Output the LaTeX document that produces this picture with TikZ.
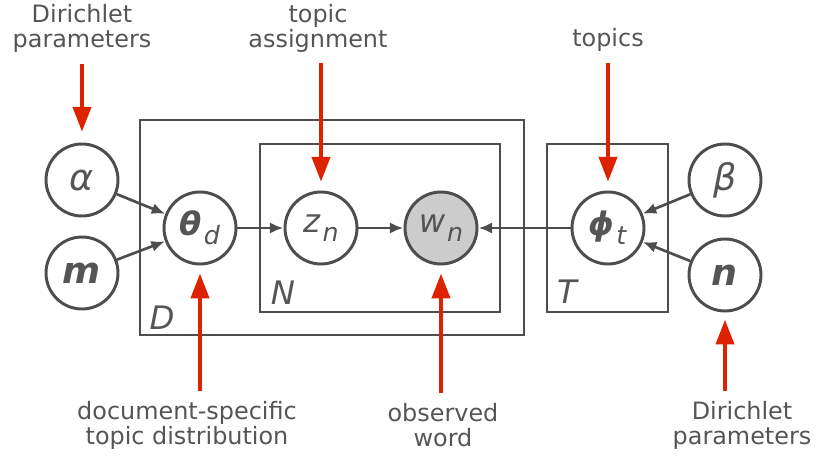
\documentclass[tikz,border=0pt]{standalone}
\usepackage{fontspec}
\setmainfont{DejaVu Sans}
\usepackage{tikz}
\usetikzlibrary{arrows.meta}
\definecolor{linegray}{HTML}{4D4D4D}
\definecolor{textgray}{HTML}{555555}
\definecolor{obsgray}{HTML}{CCCCCC}
\definecolor{pointred}{HTML}{DD2200}
\newcommand{\lowsub}[1]{\kern0.06em\raisebox{-0.5ex}{\fontsize{18}{18}\selectfont\textit{#1}}}
\newcommand{\bigsym}[1]{{\fontsize{26}{26}\selectfont #1}}

\begin{document}
\begin{tikzpicture}[
    var/.style={circle, draw=linegray, line width=2.1pt, minimum size=1.8cm,
      inner sep=0pt, text=textgray, font=\fontsize{23}{23}\selectfont},
    obs/.style={var, fill=obsgray},
    plate/.style={draw=linegray, line width=2pt},
    platelabel/.style={text=textgray, font=\fontsize{23}{23}\selectfont\itshape},
    caption/.style={text=textgray, align=center, font=\fontsize{17}{17.8}\selectfont},
    edge/.style={draw=linegray, line width=1.9pt, -{Latex[length=0.34cm,width=0.28cm]}},
    pointer/.style={draw=pointred, line width=2.8pt, -{Triangle[length=0.62cm,width=0.45cm]}}]
      \useasboundingbox (0,0) rectangle (20.95,11.85);
      % plates
      \draw[plate] (3.5,3.475) rectangle (13.1,8.85);
      \draw[plate] (6.5,4.05) rectangle (12.5,8.25);
      \draw[plate] (13.675,4.05) rectangle (16.7,8.25);
      \node[platelabel] (plD) at (4.05,3.9) {D};
      \node[platelabel] (plN) at (7.075,4.525) {N};
      \node[platelabel] (plT) at (14.175,4.55) {T};
      % variables
      \node[var] (alpha) at (2.05,7.35) {\bigsym{\textit{α}}};
      \node[var] (m) at (2.05,5.025) {\bigsym{\textbf{\textit{m}}}};
      \node[var] (theta) at (5,6.15) {\textbf{\textit{θ}}\lowsub{d}};
      \node[var] (z) at (8.025,6.15) {\textit{z}\lowsub{n}};
      \node[obs] (w) at (11.025,6.15) {\textit{w}\lowsub{n}};
      \node[var] (phi) at (15.2,6.15) {\textbf{\textit{ϕ}}\lowsub{t}};
      \node[var] (beta) at (18.125,7.35) {\bigsym{\textit{β}}};
      \node[var] (n) at (18.125,4.975) {\bigsym{\textbf{\textit{n}}}};
      % captions
      \node[caption] (dirtop) at (2.05,11.15) {Dirichlet\\parameters};
      \node[caption] (assign) at (7.95,11.15) {topic\\assignment};
      \node[caption] (topics) at (15.2,10.85) {topics};
      \node[caption] (docspec) at (4.675,1.225) {document-specific\\topic distribution};
      \node[caption] (observed) at (11.075,1.225) {observed\\word};
      \node[caption] (dirbot) at (18.55,1.225) {Dirichlet\\parameters};
      % model edges
      \draw[edge] (alpha) -- (theta);
      \draw[edge] (m) -- (theta);
      \draw[edge] (theta) -- (z);
      \draw[edge] (z) -- (w);
      \draw[edge] (phi) -- (w);
      \draw[edge] (beta) -- (phi);
      \draw[edge] (n) -- (phi);
      % red pointers from above
      \draw[pointer, shorten <=0.17cm, shorten >=0.27cm] (dirtop.south -| alpha) -- (alpha);
      \draw[pointer, shorten <=0.15cm, shorten >=0.22cm] (assign.south -| z) -- (z);
      \draw[pointer, shorten <=0.15cm, shorten >=0.22cm] (topics.south -| phi) -- (phi);
      % red pointers from below
      \draw[pointer, shorten <=0.12cm, shorten >=0.2cm] (docspec.north -| theta) -- (theta);
      \draw[pointer, shorten <=0.12cm, shorten >=0.2cm] (observed.north -| w) -- (w);
      \draw[pointer, shorten <=0.12cm, shorten >=0.18cm] (dirbot.north -| n) -- (n);
    \end{tikzpicture}
\end{document}
